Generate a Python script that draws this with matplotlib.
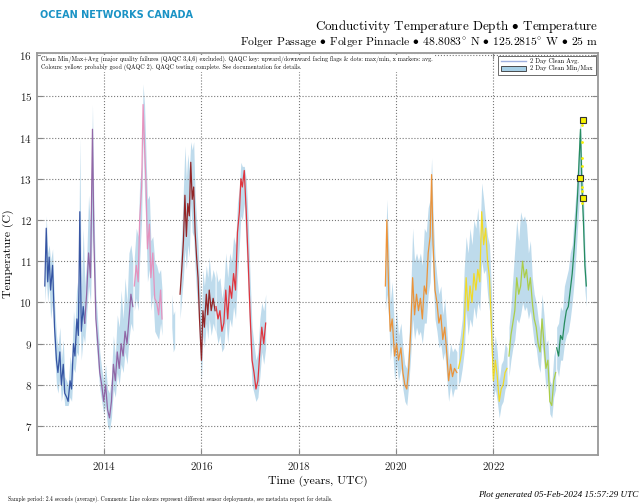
import numpy as np
import matplotlib.pyplot as plt
from matplotlib.lines import Line2D
from matplotlib.patches import Patch

plt.rcParams['font.family'] = ['cmr10', 'DejaVu Serif']
plt.rcParams['axes.formatter.use_mathtext'] = True
plt.rcParams['mathtext.fontset'] = 'cm'

# ---- data (decimal year, 2 day clean avg / min / max, deg C) ----
blue_t = [2012.78, 2012.81, 2012.84, 2012.87, 2012.90, 2012.94, 2012.98, 2013.02, 2013.05, 2013.09, 2013.12, 2013.16, 2013.19,
          2013.23, 2013.26, 2013.30, 2013.33, 2013.37, 2013.40, 2013.44, 2013.47, 2013.50, 2013.53, 2013.57, 2013.60]
blue_avg = [10.4, 11.8, 10.5, 11.1, 10.3, 10.9, 9.4, 8.6, 8.3, 8.8, 8.0, 8.5, 7.8, 7.7, 7.6, 8.1, 7.9, 9.0, 8.7, 9.6, 9.2, 12.2, 9.3, 9.9, 9.5]
blue_lo = [10.0, 10.6, 10.0, 10.4, 9.6, 10.0, 8.8, 8.0, 7.8, 8.2, 7.6, 7.9, 7.5, 7.5, 7.5, 7.7, 7.6, 8.4, 8.3, 8.8, 8.7, 9.8, 8.6, 9.2, 9.0]
blue_hi = [10.9, 12.1, 11.2, 11.4, 11.0, 11.3, 10.0, 9.2, 8.9, 9.4, 8.6, 9.1, 8.2, 8.1, 8.0, 8.7, 8.5, 9.8, 9.4, 10.5, 10.0, 14.0, 10.2, 11.8, 10.6]

purple_t = [2013.60, 2013.64, 2013.68, 2013.72, 2013.76, 2013.79, 2013.83, 2013.87, 2013.91, 2013.95, 2013.99, 2014.03, 2014.07,
            2014.11, 2014.15, 2014.19, 2014.23, 2014.27, 2014.31, 2014.35, 2014.39, 2014.43, 2014.47, 2014.51, 2014.55, 2014.59]
purple_avg = [9.5, 10.2, 11.2, 10.6, 14.2, 11.5, 9.6, 9.0, 8.3, 8.0, 7.6, 8.0, 7.4, 7.2, 7.6, 8.5, 8.1, 8.8, 8.4, 9.0, 8.7, 9.3, 9.0, 9.6, 10.2, 9.9]
purple_lo = [9.0, 9.7, 10.4, 10.0, 12.0, 10.8, 9.1, 8.5, 7.9, 7.6, 7.3, 7.5, 7.0, 6.9, 7.2, 7.9, 7.7, 8.3, 8.0, 8.5, 8.3, 8.8, 8.5, 9.1, 9.5, 9.3]
purple_hi = [10.4, 11.0, 12.6, 11.8, 14.8, 12.3, 10.2, 9.5, 8.8, 8.4, 8.1, 8.5, 7.9, 7.8, 8.2, 9.2, 8.7, 9.7, 9.4, 10.3, 9.6, 10.6, 10.0, 11.2, 11.4, 11.0]

pink_t = [2014.62, 2014.66, 2014.70, 2014.73, 2014.77, 2014.80, 2014.83, 2014.86, 2014.89, 2014.93, 2014.96, 2015.00, 2015.04,
          2015.08, 2015.12, 2015.16, 2015.19]
pink_avg = [10.4, 10.9, 10.5, 12.0, 12.8, 14.8, 13.8, 12.9, 11.3, 11.9, 10.6, 11.2, 10.1, 10.0, 9.7, 10.3, 9.6]
pink_lo = [9.8, 10.1, 9.8, 11.0, 12.0, 14.0, 12.6, 11.8, 10.5, 10.8, 9.8, 10.2, 9.3, 9.2, 9.1, 9.5, 9.2]
pink_hi = [11.1, 11.8, 11.6, 12.9, 13.3, 15.3, 14.8, 13.6, 12.5, 12.6, 11.5, 11.6, 11.0, 10.9, 10.7, 10.8, 10.3]

stray_t = [2015.39, 2015.42, 2015.45]
stray_lo = [9.4, 8.8, 8.9]
stray_hi = [10.2, 9.7, 9.8]

dred_t = [2015.56, 2015.60, 2015.63, 2015.66, 2015.69, 2015.72, 2015.75, 2015.78, 2015.81, 2015.84, 2015.87, 2015.90, 2015.93,
          2015.96, 2016.00, 2016.03, 2016.06, 2016.10, 2016.13, 2016.16, 2016.20, 2016.24, 2016.28]
dred_avg = [10.2, 10.9, 11.5, 12.6, 11.6, 12.4, 12.1, 13.4, 12.5, 12.8, 11.7, 11.1, 10.6, 9.6, 8.6, 9.8, 9.4, 10.2, 9.7, 10.3, 9.8, 10.1, 9.8]
dred_lo = [9.6, 10.2, 10.6, 11.3, 10.8, 11.4, 11.1, 12.4, 11.7, 11.6, 10.8, 10.2, 9.8, 9.0, 8.1, 9.2, 8.9, 9.5, 9.1, 9.6, 9.2, 9.5, 9.3]
dred_hi = [10.9, 11.8, 12.8, 13.8, 13.0, 13.6, 13.2, 13.9, 13.7, 13.9, 12.6, 12.0, 11.4, 10.5, 9.6, 10.8, 10.4, 10.9, 10.6, 11.1, 10.5, 10.8, 10.6]

red_t = [2016.30, 2016.34, 2016.38, 2016.42, 2016.46, 2016.50, 2016.54, 2016.58, 2016.62, 2016.66, 2016.70, 2016.74, 2016.78,
         2016.81, 2016.84, 2016.88, 2016.92, 2016.96, 2017.00, 2017.04, 2017.08, 2017.12, 2017.16, 2017.20, 2017.24, 2017.28, 2017.32]
red_avg = [9.9, 9.6, 9.8, 9.3, 9.5, 10.3, 9.6, 10.4, 10.1, 10.7, 10.3, 11.7, 12.2, 13.0, 12.8, 13.2, 12.2, 11.0, 9.7, 8.6, 8.3, 7.9, 8.1, 8.8, 9.4, 9.0, 9.5]
red_lo = [9.3, 9.0, 9.2, 8.8, 8.9, 9.6, 9.0, 9.6, 9.4, 9.9, 9.6, 10.6, 11.4, 12.1, 12.0, 12.4, 11.3, 10.2, 9.0, 8.0, 7.8, 7.6, 7.7, 8.2, 8.8, 8.5, 8.9]
red_hi = [10.8, 10.5, 10.6, 10.1, 10.4, 11.2, 10.6, 11.2, 11.0, 11.6, 11.4, 12.4, 12.8, 13.4, 13.3, 13.3, 13.0, 12.0, 10.6, 9.4, 9.0, 8.6, 8.8, 9.6, 10.0, 9.8, 10.2]

orange_t = [2019.78, 2019.81, 2019.85, 2019.88, 2019.92, 2019.97, 2020.01, 2020.05, 2020.10, 2020.14, 2020.18, 2020.22, 2020.26,
            2020.30, 2020.34, 2020.38, 2020.42, 2020.46, 2020.50, 2020.54, 2020.58, 2020.62, 2020.66, 2020.70, 2020.73, 2020.76,
            2020.80, 2020.84, 2020.88, 2020.92, 2020.96, 2021.00, 2021.04, 2021.08, 2021.12, 2021.16, 2021.20, 2021.25]
orange_avg = [10.4, 12.0, 10.2, 9.3, 9.6, 8.7, 9.0, 8.6, 8.9, 8.3, 8.0, 7.9, 8.4, 9.3, 10.6, 9.7, 10.2, 9.8, 10.1, 9.6, 10.4, 10.2,
              11.2, 11.6, 13.1, 11.4, 10.3, 10.0, 9.5, 9.7, 9.1, 9.4, 8.8, 8.1, 8.5, 8.2, 8.4, 8.3]
orange_lo = [9.8, 10.2, 9.6, 8.6, 9.0, 8.1, 8.5, 8.1, 8.4, 7.9, 7.6, 7.5, 8.0, 8.7, 9.6, 9.1, 9.4, 9.2, 9.3, 9.0, 9.5, 9.5,
             10.2, 10.5, 11.5, 10.6, 9.6, 9.3, 8.9, 9.0, 8.6, 8.8, 8.2, 7.6, 8.0, 7.7, 7.9, 7.9]
orange_hi = [11.0, 12.5, 11.3, 10.0, 10.5, 9.3, 9.8, 9.2, 9.5, 8.9, 8.5, 8.4, 9.0, 10.2, 11.8, 11.0, 11.2, 11.0, 11.2, 10.9, 11.8, 11.7,
             12.3, 12.5, 13.5, 12.2, 11.1, 10.6, 10.2, 10.4, 9.7, 10.1, 9.4, 8.6, 9.0, 8.8, 8.9, 8.8]

yellow_t = [2021.28, 2021.32, 2021.36, 2021.40, 2021.44, 2021.48, 2021.52, 2021.56, 2021.60, 2021.64, 2021.68, 2021.72, 2021.76,
            2021.80, 2021.84, 2021.88, 2021.92, 2021.96, 2022.00, 2022.04, 2022.08, 2022.12, 2022.16, 2022.20, 2022.24, 2022.28]
yellow_avg = [8.4, 8.6, 8.9, 9.4, 10.6, 9.8, 10.4, 10.0, 10.7, 10.3, 10.8, 10.5, 12.2, 11.4, 11.8, 11.0, 10.6, 9.4, 8.1, 8.6, 8.2, 7.6, 7.9, 8.0, 8.3, 8.4]
yellow_lo = [8.0, 8.1, 8.4, 8.8, 9.8, 9.2, 9.6, 9.4, 9.9, 9.6, 10.0, 9.8, 11.0, 10.7, 10.8, 10.2, 9.8, 8.7, 7.7, 7.9, 7.6, 7.2, 7.5, 7.6, 7.9, 8.0]
yellow_hi = [8.9, 9.2, 9.6, 10.8, 11.6, 11.2, 11.8, 11.4, 12.0, 11.8, 12.3, 11.5, 12.9, 12.5, 12.0, 11.6, 11.4, 10.3, 8.8, 9.2, 8.8, 8.1, 8.5, 8.6, 9.0, 8.9]

lime_t = [2022.32, 2022.36, 2022.40, 2022.44, 2022.48, 2022.52, 2022.56, 2022.60, 2022.64, 2022.68, 2022.72, 2022.76, 2022.80,
          2022.84, 2022.88, 2022.92, 2022.96, 2023.00, 2023.04, 2023.08, 2023.12, 2023.16, 2023.20, 2023.24, 2023.28]
lime_avg = [8.7, 9.2, 9.5, 9.8, 10.6, 10.2, 10.4, 11.0, 10.6, 10.8, 10.3, 10.6, 10.0, 9.6, 9.4, 9.0, 8.8, 9.6, 9.0, 8.4, 8.6, 7.6, 7.5, 8.1, 8.3]
lime_lo = [8.2, 8.6, 8.9, 9.1, 9.6, 9.5, 9.7, 10.0, 9.8, 9.9, 9.6, 9.8, 9.4, 9.0, 8.9, 8.5, 8.3, 9.0, 8.5, 7.9, 8.1, 7.3, 7.2, 7.7, 7.9]
lime_hi = [9.4, 9.9, 10.6, 11.3, 12.0, 11.5, 12.2, 12.0, 12.1, 11.9, 11.2, 11.5, 10.6, 10.2, 10.0, 9.6, 9.3, 10.2, 9.7, 9.0, 9.1, 8.1, 8.0, 8.7, 8.9]

green_t = [2023.30, 2023.34, 2023.38, 2023.42, 2023.46, 2023.50, 2023.54, 2023.58, 2023.62, 2023.66, 2023.70, 2023.73, 2023.76,
           2023.79, 2023.82, 2023.85, 2023.88, 2023.91]
green_avg = [8.9, 8.7, 9.2, 9.1, 9.5, 9.8, 9.9, 10.3, 10.7, 11.3, 12.0, 12.6, 13.4, 14.2, 12.8, 12.0, 10.9, 10.4]
green_lo = [8.4, 8.2, 8.6, 8.6, 9.0, 9.2, 9.3, 9.6, 10.0, 10.5, 11.2, 11.8, 12.4, 13.0, 12.2, 11.3, 10.3, 9.9]
green_hi = [9.4, 9.5, 9.9, 9.8, 10.4, 10.6, 10.8, 11.2, 11.4, 12.1, 12.7, 13.3, 14.0, 14.5, 13.3, 12.7, 11.4, 10.6]

# QAQC 2 (probably good) points at the end of the record
flag_t = [2023.84, 2023.78, 2023.84]
flag_v = [14.42, 13.02, 12.53]
dot_t = [2023.82, 2023.82, 2023.82, 2023.82, 2023.82, 2023.82, 2023.82]
dot_v = [14.3, 13.9, 13.5, 13.3, 12.8, 12.7, 12.4]

deployments = [
    (blue_t, blue_avg, blue_lo, blue_hi, '#27469b'),
    (purple_t, purple_avg, purple_lo, purple_hi, '#8c5a9f'),
    (pink_t, pink_avg, pink_lo, pink_hi, '#e98ab9'),
    (dred_t, dred_avg, dred_lo, dred_hi, '#8e1212'),
    (red_t, red_avg, red_lo, red_hi, '#e4232b'),
    (orange_t, orange_avg, orange_lo, orange_hi, '#f08b26'),
    (yellow_t, yellow_avg, yellow_lo, yellow_hi, '#f6da12'),
    (lime_t, lime_avg, lime_lo, lime_hi, '#a9cc36'),
    (green_t, green_avg, green_lo, green_hi, '#15834f'),
]

band_col = '#a9cfe6'

fig = plt.figure(figsize=(6.43, 5.04), dpi=100)
ax = fig.add_axes([37/643, 1-455/504, 561/643, 402/504])

ax.fill_between(stray_t, stray_lo, stray_hi, color=band_col, alpha=0.75, lw=0)
for t, avg, lo, hi, c in deployments:
    ax.fill_between(t, lo, hi, color=band_col, alpha=0.75, lw=0)
for t, avg, lo, hi, c in deployments:
    ax.plot(t, avg, color=c, lw=0.9, alpha=0.9)

ax.plot(dot_t, dot_v, 'o', color='#f5f000', ms=2, mec='none')
ax.plot(flag_t, flag_v, 's', color='#f5f000', ms=4, mec='#333333', mew=0.8)

ax.set_xlim(2012.62, 2024.15)
ax.set_ylim(6.3, 16.05)
ax.set_xticks([2014, 2016, 2018, 2020, 2022])
ax.set_yticks(range(7, 17))
ax.grid(True, color='#777777', ls=':', lw=0.8)
ax.tick_params(direction='in', length=4, top=True, right=True, labelsize=8,
               color='#888888', labelcolor='#222222')
for s in ax.spines.values():
    s.set_color('#999999')
    s.set_linewidth(1.3)

ax.set_xlabel('Time (years, UTC)', fontsize=8.5, labelpad=3)
ax.set_ylabel('Temperature (C)', fontsize=8.5, labelpad=4)

ax.text(0.008, 0.993, 'Clean Min/Max+Avg (major quality failures (QAQC 3,4,6) excluded). QAQC key: upward/downward facing flags & dots: max/min, x markers: avg.\n'
        'Colours: yellow: probably good (QAQC 2). QAQC testing complete. See documentation for details.',
        transform=ax.transAxes, ha='left', va='top', fontsize=4.3, linespacing=1.3,
        bbox=dict(facecolor='white', edgecolor='none', pad=0.5))

leg = ax.legend([Line2D([], [], color='#9fb0e0', lw=1),
                 Patch(facecolor='#a6cfe6', edgecolor='#333333', lw=0.6)],
                ['2 Day Clean Avg.', '2 Day Clean Min/Max'],
                loc='upper right', fontsize=4.5, frameon=True, fancybox=False,
                edgecolor='#555555', framealpha=1, borderpad=0.4, handlelength=4,
                handleheight=0.9, labelspacing=0.2, borderaxespad=0.4)
leg.get_frame().set_linewidth(0.6)

fig.text(40/643, 1-15/504, 'OCEAN NETWORKS CANADA', family='DejaVu Sans', fontweight='bold',
         color='#1a93c5', fontsize=7.0, ha='left', va='center')
fig.text(598/643, 1-30/504, r'Conductivity Temperature Depth ${\bullet}$ Temperature',
         ha='right', va='baseline', fontsize=9.4)
fig.text(598/643, 1-46/504, r'Folger Passage ${\bullet}$ Folger Pinnacle ${\bullet}$ 48.8083${}^{\circ}$ N ${\bullet}$ 125.2815${}^{\circ}$ W ${\bullet}$ 25 m',
         ha='right', va='baseline', fontsize=8.4)
fig.text(8/643, 1-501/504, 'Sample period: 2.4 seconds (average). Comments: Line colours represent different sensor deployments, see metadata report for details.',
         ha='left', va='baseline', fontsize=4)
fig.text(638/643, 1-497/504, 'Plot generated 05-Feb-2024 15:57:29 UTC', style='italic',
         family=['Liberation Serif'], ha='right', va='baseline', fontsize=6.6)

plt.savefig('out.png', dpi=100)
